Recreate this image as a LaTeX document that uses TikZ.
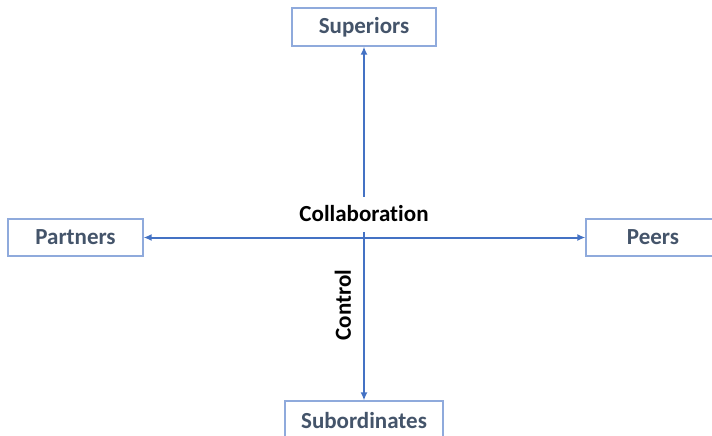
\documentclass[tikz,border=0pt]{standalone}
\usepackage{fontspec}
\setmainfont{Carlito}[Ligatures={NoCommon,NoRare}]
\usepackage{tikz}
\usetikzlibrary{arrows.meta}

\definecolor{boxline}{RGB}{143,170,220}
\definecolor{boxtext}{RGB}{68,84,106}
\definecolor{axis}{RGB}{68,114,196}

\tikzset{
  party/.style={draw=boxline, line width=1.2pt, fill=white, text=boxtext,
    font=\fontsize{23}{26}\selectfont\bfseries, inner sep=0pt},
  axisline/.style={draw=axis, line width=2pt, {Latex[length=8pt,width=7pt]}-{Latex[length=8pt,width=7pt]}},
  axislabel/.style={font=\fontsize{23}{26}\selectfont\bfseries, text=black}
}

\begin{document}
\begin{tikzpicture}[x=1pt, y=-1pt]
      \useasboundingbox (0, 0) rectangle (712, 436);
      % the four parties
      \node[party, minimum width=144, minimum height=38] (sup) at (364, 27) {Superiors};
      \node[party, minimum width=135, minimum height=37] (par) at (75.5, 237.5) {Partners};
      \node[party, minimum width=134, minimum height=37] (pee) at (653, 237.5) {Peers};
      \node[party, minimum width=158, minimum height=40] (sub) at (364, 421) {Subordinates};

      % axes
      \draw[axisline] (par) -- (pee);
      \draw[axisline] (sub) -- (sup);

      \node[axislabel, fill=white, minimum width=148, minimum height=35] (col) at (364, 214) {Collaboration};
      \node[axislabel, rotate=90] (con) at (343, 305) {Control};
    \end{tikzpicture}
\end{document}
